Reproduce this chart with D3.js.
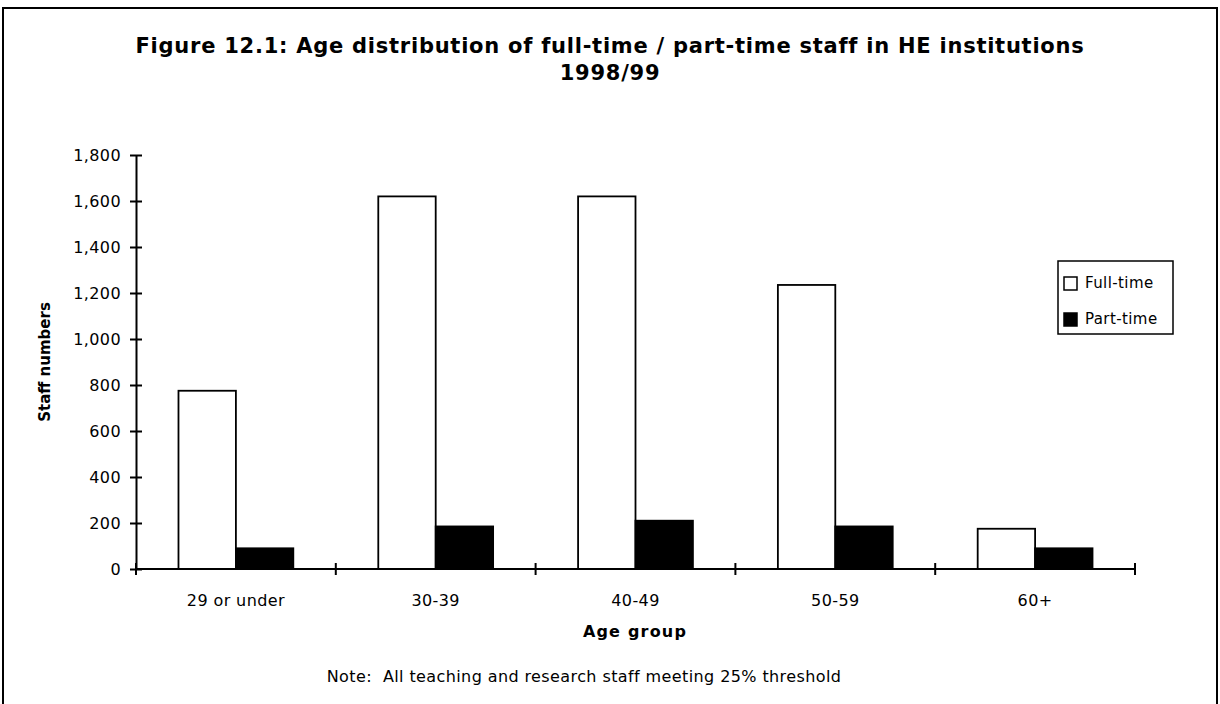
<!DOCTYPE html>
<html>
<head>
<meta charset="utf-8">
<script src="https://cdn.jsdelivr.net/npm/d3@7"></script>
<style>
  html, body { margin: 0; padding: 0; background: #fff; }
  svg text { font-family: "DejaVu Sans", sans-serif; fill: #000; white-space: pre; }
</style>
</head>
<body>
<svg id="chart" width="1220" height="704"></svg>
<script>
const categories = ["29 or under", "30-39", "40-49", "50-59", "60+"];
const seriesNames = ["Full-time", "Part-time"];
const fullTime = [775, 1620, 1620, 1235, 175];
const partTime = [90, 185, 210, 185, 90];
const yTicks = [0, 200, 400, 600, 800, 1000, 1200, 1400, 1600, 1800];
const titleLines = ["Figure 12.1: Age distribution of full-time / part-time staff in HE institutions", "1998/99"];
const xTitle = "Age group";
const yTitle = "Staff numbers";
const note = "Note:  All teaching and research staff meeting 25% threshold";

const svg = d3.select("#chart");

// outer frame
svg.append("rect").attr("x", 3).attr("y", 8).attr("width", 1214).attr("height", 710)
  .attr("fill", "none").attr("stroke", "#000").attr("stroke-width", 2);

const margin = {left: 136, top: 155};
const plotW = 1135 - 136, plotH = 569 - 155;
const g = svg.append("g").attr("transform", `translate(${margin.left},${margin.top})`);

const x = d3.scaleBand().domain(categories).range([0, plotW]).padding(0);
const xs = d3.scaleBand().domain(seriesNames).range([0, x.bandwidth()]).paddingInner(0).paddingOuter(0.74);
const y = d3.scaleLinear().domain([0, 1800]).range([plotH, 0]);

const data = categories.map((c, i) => ({cat: c, values: [
  {s: "Full-time", v: fullTime[i]}, {s: "Part-time", v: partTime[i]}]}));

const colors = {"Full-time": "#fff", "Part-time": "#000"};

// bars
const groups = g.selectAll("g.grp").data(data).join("g").attr("class", "grp")
  .attr("transform", d => `translate(${x(d.cat)},0)`);
groups.selectAll("rect").data(d => d.values).join("rect")
  .attr("x", d => xs(d.s))
  .attr("y", d => y(d.v))
  .attr("width", xs.bandwidth())
  .attr("height", d => plotH - y(d.v))
  .attr("fill", d => colors[d.s])
  .attr("stroke", "#000").attr("stroke-width", 1.8);

// y axis
const yAxis = g.append("g").call(d3.axisLeft(y).tickValues(yTicks).tickFormat(d3.format(",")).tickSizeInner(6).tickSizeOuter(0).tickPadding(9));
yAxis.select(".domain").attr("stroke", "#000").attr("stroke-width", 2);
yAxis.selectAll(".tick line").attr("stroke", "#000").attr("stroke-width", 2).attr("x1", 6).attr("x2", -6);
yAxis.selectAll(".tick text").attr("font-size", 16).attr("font-family", "DejaVu Sans").attr("letter-spacing", 0.4).attr("fill", "#111");

// x axis
const bounds = categories.map(c => x(c)).concat([plotW]);
const xAxisG = g.append("g").attr("transform", `translate(0,${plotH})`);
xAxisG.append("line").attr("x1", 0).attr("x2", plotW).attr("stroke", "#000").attr("stroke-width", 2);
xAxisG.selectAll("line.tk").data(bounds).join("line").attr("class", "tk")
  .attr("x1", d => d).attr("x2", d => d).attr("y1", -6).attr("y2", 6)
  .attr("stroke", "#000").attr("stroke-width", 2);
xAxisG.selectAll("text.lbl").data(categories).join("text").attr("class", "lbl")
  .attr("x", d => x(d) + x.bandwidth() / 2).attr("y", 37)
  .attr("text-anchor", "middle").attr("font-size", 16).attr("letter-spacing", 0.4).attr("fill", "#111").text(d => d);

// titles
svg.selectAll("text.title").data(titleLines).join("text").attr("class", "title")
  .attr("x", 610).attr("y", (d, i) => 53 + i * 27)
  .attr("text-anchor", "middle").attr("font-size", 21).attr("font-weight", "bold")
  .attr("letter-spacing", 0.75).text(d => d);

svg.append("text").attr("x", 635).attr("y", 637).attr("text-anchor", "middle")
  .attr("font-size", 16).attr("font-weight", "bold").attr("letter-spacing", 1.2).text(xTitle);

svg.append("text").attr("transform", "translate(50,362) rotate(-90)").attr("text-anchor", "middle")
  .attr("font-size", 15).attr("font-weight", "bold").text(yTitle);

svg.append("text").attr("x", 584).attr("y", 682).attr("text-anchor", "middle")
  .attr("font-size", 16).attr("letter-spacing", 0.4).attr("fill", "#111").text(note);

// legend
const lg = svg.append("g").attr("transform", "translate(1058,261)");
lg.append("rect").attr("width", 115).attr("height", 73).attr("fill", "#fff").attr("stroke", "#000").attr("stroke-width", 1.5);
const li = lg.selectAll("g.li").data(seriesNames).join("g").attr("class", "li")
  .attr("transform", (d, i) => `translate(6,${16 + i * 36})`);
li.append("rect").attr("width", 13).attr("height", 13).attr("fill", d => colors[d])
  .attr("stroke", "#000").attr("stroke-width", 1.5);
li.append("text").attr("x", 21).attr("y", 11).attr("font-size", 15).attr("letter-spacing", 0.4).attr("fill", "#111").text(d => d);
</script>
</body>
</html>
